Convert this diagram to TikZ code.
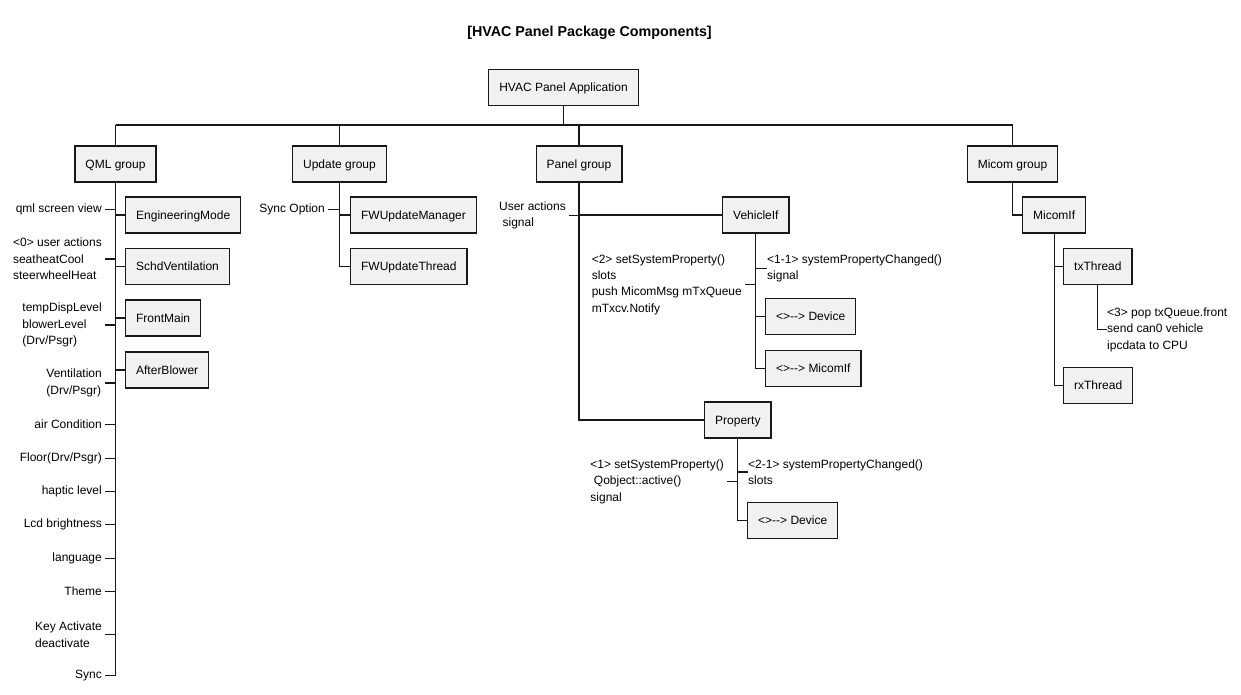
\documentclass[tikz,border=0pt]{standalone}
\usepackage{fontspec}
\setmainfont{Liberation Sans}
\definecolor{boxfill}{HTML}{F1F1F1}
\definecolor{linec}{HTML}{181818}
\newcommand{\aggr}{<>-\kern0pt->}

\begin{document}
\begin{tikzpicture}[x=1pt, y=-1pt, every node/.style={font=\fontsize{12}{16.4}\selectfont, text=black},
	comp/.style={draw=linec, fill=boxfill, line width=1.3pt, minimum height=36pt, inner xsep=10.5pt, inner ysep=0pt, text height=8.6pt, text depth=0pt},
	note/.style={inner sep=0pt, align=left, yshift=-1.5pt},
	wire/.style={draw=linec, line width=1.2pt}]
	\fill[white] (0,0) rectangle (1241,694);
	\node[font=\fontsize{14.3}{16}\selectfont\bfseries] (title) at (589.5,33) {[HVAC Panel Package Components]};
	\node[comp] (app) at (563.5,87.5) {HVAC Panel Application};
	\node[comp] (qml) at (115.5,164) {QML group};
	\node[comp] (upd) at (339.5,164) {Update group};
	\node[comp] (pnl) at (579,164) {Panel group};
	\node[comp] (mic) at (1012.5,164) {Micom group};
	\coordinate (busL) at (115.5,125);
	\coordinate (busR) at (1012.5,125);
	\draw[wire] (busL) -- (busR);
	\draw[wire] (app.south) -- (app.south |- busL);
	\foreach \g in {qml,upd,pnl,mic} \draw[wire] (\g.north) -- (\g.north |- busL);
	\node[comp, anchor=west] (em) at (125,215) {EngineeringMode};
	\node[comp, anchor=west] (sv) at (125,266.5) {SchdVentilation};
	\node[comp, anchor=west] (fm) at (125,318) {FrontMain};
	\node[comp, anchor=west] (ab) at (125,370) {AfterBlower};
	\node[note, anchor=east] (q1) at (102,208) {qml screen view};
	\node[note, anchor=east] (q2) at (102,257.5) {<0> user actions\\seatheatCool\\steerwheelHeat};
	\node[note, anchor=east] (q3) at (102,323.5) {tempDispLevel\\blowerLevel\\(Drv/Psgr)};
	\node[note, anchor=east] (q4) at (102,381.5) {Ventilation\\(Drv/Psgr)};
	\node[note, anchor=east] (q5) at (102,423) {air Condition};
	\node[note, anchor=east] (q6) at (102,457) {Floor(Drv/Psgr)};
	\node[note, anchor=east] (q7) at (102,490) {haptic level};
	\node[note, anchor=east] (q8) at (102,523) {Lcd brightness};
	\node[note, anchor=east] (q9) at (102,557) {language};
	\node[note, anchor=east] (q10) at (102,590) {Theme};
	\node[note, anchor=east] (q11) at (102,633) {Key Activate\\deactivate};
	\node[note, anchor=east] (q12) at (102,674) {Sync};
	\draw[wire] (qml.south) -- (qml.south |- q12.east);
	\foreach \c in {em,sv,fm,ab} \draw[wire] (qml.south |- \c.west) -- (\c.west);
	\foreach \q in {1,...,12} \draw[wire] ([xshift=3pt]q\q.east) -- (qml.south |- q\q.east);
	\node[comp, anchor=west] (fwm) at (350,215) {FWUpdateManager};
	\node[comp, anchor=west] (fwt) at (350,266.5) {FWUpdateThread};
	\node[note, anchor=east] (so) at (325,208) {Sync Option};
	\draw[wire] (upd.south) |- (fwt.west);
	\draw[wire] (upd.south |- fwm.west) -- (fwm.west);
	\draw[wire] ([xshift=3pt]so.east) -- (upd.south |- so.east);
	\node[comp, anchor=west] (veh) at (722,215) {VehicleIf};
	\node[comp, anchor=west] (prop) at (704,420) {Property};
	\node[note, anchor=east] (ua) at (566,214) {User actions\\\hspace{3.5pt}signal};
	\draw[wire] (pnl.south) |- (prop.west);
	\draw[wire] (pnl.south |- veh.west) -- (veh.west);
	\draw[wire] ([xshift=3pt]ua.east) -- (pnl.south |- ua.east);
	\node[comp, anchor=west] (vdev) at (765,316.5) {\aggr{} Device};
	\node[comp, anchor=west] (vmic) at (765,368.5) {\aggr{} MicomIf};
	\node[note, anchor=east] (sp2) at (742,283) {<2> setSystemProperty()\\slots\\push MicomMsg mTxQueue\\mTxcv.Notify};
	\node[note, anchor=west] (ch11) at (767,267) {<1-1> systemPropertyChanged()\\signal};
	\draw[wire] (veh.south) |- (vmic.west);
	\draw[wire] (veh.south |- vdev.west) -- (vdev.west);
	\draw[wire] ([xshift=3pt]sp2.east) -- (veh.south |- sp2.east);
	\draw[wire] (veh.south |- ch11.west) -- (ch11.west);
	\node[comp, anchor=west] (pdev) at (747,520.5) {\aggr{} Device};
	\node[note, anchor=east] (sp1) at (724,480) {<1> setSystemProperty()\\\hspace{3.5pt}Qobject::active()\\signal};
	\node[note, anchor=west] (ch21) at (748,470.5) {<2-1> systemPropertyChanged()\\slots};
	\draw[wire] (prop.south) |- (pdev.west);
	\draw[wire] ([xshift=3pt]sp1.east) -- (prop.south |- sp1.east);
	\draw[wire] (prop.south |- ch21.west) -- (ch21.west);
	\node[comp, anchor=west] (mif) at (1022,215) {MicomIf};
	\node[comp, anchor=west] (tx) at (1063,266.5) {txThread};
	\node[comp, anchor=west] (rx) at (1063,385.5) {rxThread};
	\node[note, anchor=west] (tx3) at (1107,328) {<3> pop txQueue.front\\send can0 vehicle\\ipcdata to CPU};
	\draw[wire] (mic.south) |- (mif.west);
	\draw[wire] (mif.south) |- (rx.west);
	\draw[wire] (mif.south |- tx.west) -- (tx.west);
	\draw[wire] (tx.south) |- (tx3.west);
\end{tikzpicture}
\end{document}
